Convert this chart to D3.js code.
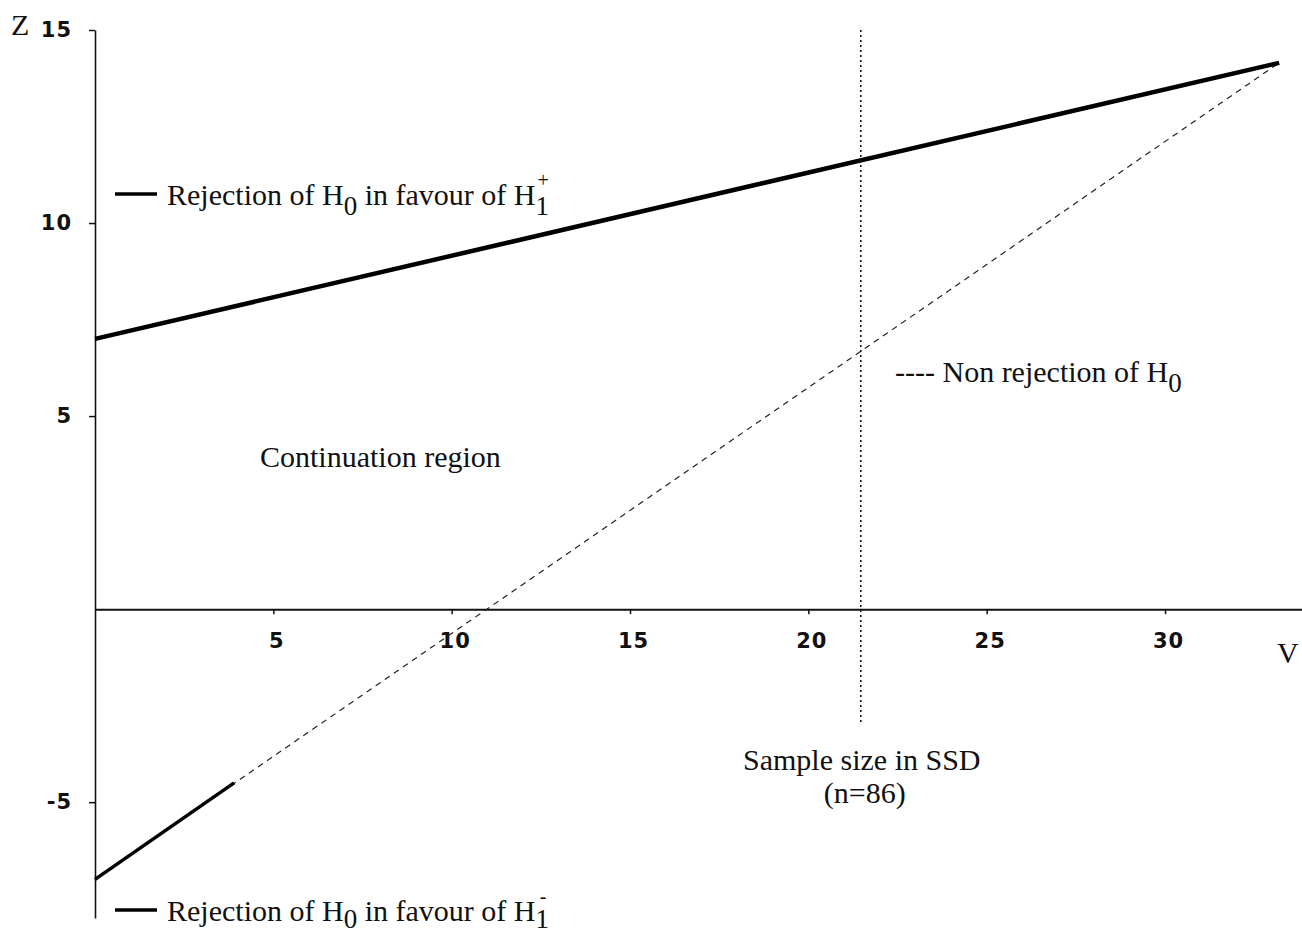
<!DOCTYPE html>
<html>
<head>
<meta charset="utf-8">
<script src="https://cdn.jsdelivr.net/npm/d3@7/dist/d3.min.js"></script>
<style>
  html, body { margin: 0; padding: 0; background: #fff; }
  svg { display: block; }
  .lbl { font-family: "Liberation Serif", "DejaVu Serif", serif; font-size: 30px; fill: #111; }
  .tick text { font-family: "DejaVu Sans", sans-serif; font-weight: bold; font-size: 21px; letter-spacing: 1px; fill: #111; }
</style>
</head>
<body>
<script>
// ---- data ----
const xTicks = [5, 10, 15, 20, 25, 30];
const yTicks = [-5, 5, 10, 15];
const upperBoundary = [{v: 0, z: 7}, {v: 33.2, z: 14.15}];       // rejection of H0 in favour of H1+
const lowerBoundary = [{v: 0, z: -7}, {v: 33.2, z: 14.15}];      // non rejection of H0 (dashed)
const lowerRejection = [{v: 0, z: -7}, {v: 3.9, z: -4.5}];       // rejection of H0 in favour of H1-
const ssdSampleV = 21.47;                                          // sample size in SSD (n=86)
const ssdLineZ = [15, -3.0];

const W = 1302, H = 935;
const svg = d3.select("body").append("svg").attr("width", W).attr("height", H);

const x = d3.scaleLinear().domain([0, 33.84]).range([95, 1302]);
const y = d3.scaleLinear().domain([-8, 15]).range([918, 30]);
const fmt = d => String(d);

// axes
const xAxis = svg.append("g").attr("transform", `translate(0,${y(0)})`)
  .call(d3.axisBottom(x).tickValues(xTicks).tickFormat(fmt).tickSize(5).tickSizeOuter(0).tickPadding(19));
xAxis.select(".domain").attr("stroke", "#111").attr("stroke-width", 2);
xAxis.selectAll(".tick line").attr("stroke", "#111").attr("stroke-width", 1.5);
xAxis.selectAll(".tick text").attr("dx", 3);

const yAxis = svg.append("g").attr("transform", `translate(${x(0)},0)`)
  .call(d3.axisLeft(y).tickValues(yTicks).tickFormat(fmt).tickSize(6).tickSizeOuter(0).tickPadding(17));
yAxis.select(".domain").attr("stroke", "#111").attr("stroke-width", 1.6);
yAxis.selectAll(".tick line").attr("stroke", "#111").attr("stroke-width", 1.5);

const line = d3.line().x(d => x(d.v)).y(d => y(d.z));

// dashed non-rejection boundary
svg.append("path").datum(lowerBoundary).attr("d", line)
  .attr("fill", "none").attr("stroke", "#222").attr("stroke-width", 1.2)
  .attr("stroke-dasharray", "6,5");

// upper rejection boundary
svg.append("path").datum(upperBoundary).attr("d", line)
  .attr("fill", "none").attr("stroke", "#000").attr("stroke-width", 4.5);

// lower rejection boundary
svg.append("path").datum(lowerRejection).attr("d", line)
  .attr("fill", "none").attr("stroke", "#000").attr("stroke-width", 3.5);

// SSD vertical dotted line
svg.append("line")
  .attr("x1", x(ssdSampleV)).attr("x2", x(ssdSampleV))
  .attr("y1", y(ssdLineZ[0])).attr("y2", y(ssdLineZ[1]))
  .attr("stroke", "#111").attr("stroke-width", 1.6).attr("stroke-dasharray", "2,3");

// axis titles
svg.append("text").attr("class", "lbl").attr("x", 11).attr("y", 35).text("Z");
svg.append("text").attr("class", "lbl").attr("x", 1277).attr("y", 663).text("V");

// legend-style label with subscript 0 and H1 with sup sign (one text element)
function rejLabel(x0, yb, sign, sd) {
  svg.append("line").attr("x1", 115).attr("x2", 157).attr("y1", yb - 11).attr("y2", yb - 11)
    .attr("stroke", "#000").attr("stroke-width", 3.5);
  const t = svg.append("text").attr("class", "lbl").attr("x", x0).attr("y", yb);
  t.append("tspan").text("Rejection of H");
  t.append("tspan").attr("dy", sd).style("font-size", "27px").text("0");
  t.append("tspan").attr("dy", -sd).text(" in favour of H");
  const sub = t.append("tspan").attr("dy", sd).style("font-size", "27px").text("1");
  const total = t.node().getComputedTextLength();
  const subW = sub.node().getComputedTextLength();
  const sg = t.append("tspan").style("font-size", "20px").attr("dy", -(sd + 18)).text(sign);
  const sgW = sg.node().getComputedTextLength();
  sg.attr("x", x0 + total - subW / 2 - sgW / 2 + 1);
}
rejLabel(167, 205, "+", 10);
rejLabel(167, 921, "-", 7);

svg.append("text").attr("class", "lbl").attr("x", 260).attr("y", 467).text("Continuation region");

const nr = svg.append("text").attr("class", "lbl").attr("x", 895).attr("y", 382);
nr.append("tspan").text("---- Non rejection of H");
nr.append("tspan").attr("dy", 10).style("font-size", "27px").text("0");

svg.append("text").attr("class", "lbl").attr("text-anchor", "middle")
  .attr("x", x(ssdSampleV) + 1).attr("y", 770).text("Sample size in SSD");
svg.append("text").attr("class", "lbl").attr("text-anchor", "middle")
  .attr("x", x(ssdSampleV) + 4).attr("y", 803).text("(n=86)");
</script>
</body>
</html>
